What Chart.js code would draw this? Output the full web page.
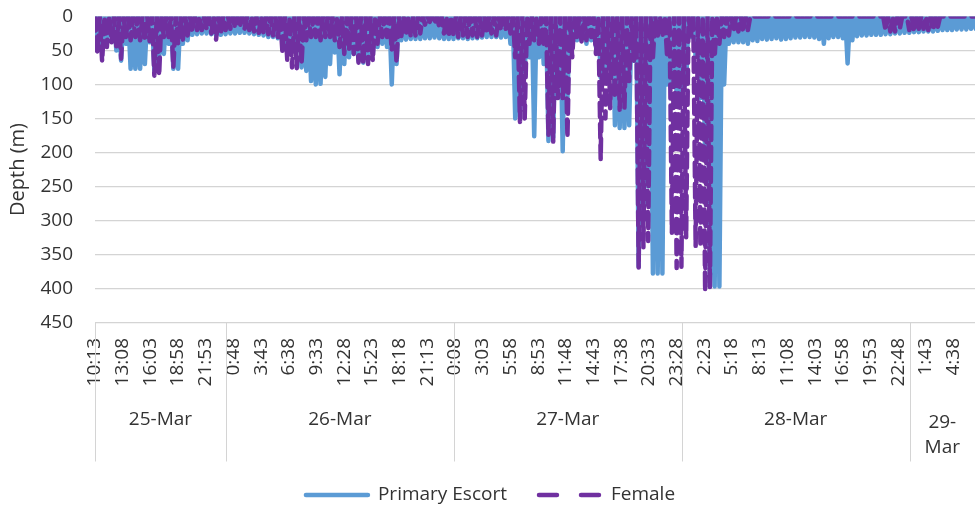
<!DOCTYPE html>
<html>
<head>
<meta charset="utf-8">
<script src="https://cdn.jsdelivr.net/npm/chart.js@4.4.1/dist/chart.umd.min.js"></script>
<style>
  html, body { margin: 0; padding: 0; background: #fff; }
  #wrap { width: 975px; height: 510px; position: relative; }
</style>
</head>
<body>
<div id="wrap"><canvas id="depthChart"></canvas></div>
<script>
// time axis is minutes after 25-Mar 10:13, depth read as deepest point per 30 min
const binMinutes = 30;
const surfaceDepth = 0;

const timeLabels = ['10:13','13:08','16:03','18:58','21:53','0:48','3:43','6:38','9:33','12:28',
  '15:23','18:18','21:13','0:08','3:03','5:58','8:53','11:48','14:43','17:38','20:33','23:28',
  '2:23','5:18','8:13','11:08','14:03','16:58','19:53','22:48','1:43','4:38'];
const labelStep = 175;

const dayLabels = ['25-Mar', '26-Mar', '27-Mar', '28-Mar', '29-Mar'];
const dayStarts = [0, 827, 2267, 3707, 5147];

const escortDepth = [
  40,45,35,30,50,65,40,77,77,77,70,38,80,60,55,40,77,77,40,35,
  27,26,25,25,26,28,27,26,25,25,24,24,25,26,27,28,30,30,32,35,
  40,45,50,75,80,95,100,99,89,70,53,85,70,60,55,65,68,60,55,45,
  40,45,100,70,35,34,33,33,33,32,32,31,32,33,33,33,32,32,33,32,
  32,31,30,30,30,31,30,40,150,148,80,60,176,60,70,183,178,90,198,120,
  40,35,35,40,35,45,90,80,75,160,164,164,160,65,368,300,250,378,378,378,
  100,100,120,120,100,30,60,120,200,397,397,397,100,40,38,38,38,40,35,36,
  33,34,33,32,34,33,32,31,31,30,30,31,33,40,32,30,30,32,69,35,
  29,28,28,27,27,27,26,26,25,25,24,24,23,23,22,22,22,21,20,20,
  20,19,19,19,18,18
];

const femaleDepth = [
  55,66,45,38,45,62,30,35,30,35,36,36,87,87,30,30,75,40,34,28,
  22,20,20,18,25,34,24,20,18,17,16,18,20,22,24,25,26,28,30,55,
  65,75,76,70,35,30,30,35,30,30,35,45,55,50,55,68,70,70,65,40,
  30,30,50,68,30,28,30,28,25,12,8,10,15,25,30,28,30,28,30,28,
  30,28,25,25,28,20,18,25,60,155,150,40,35,40,45,175,184,120,120,178,
  60,30,40,35,30,55,210,150,135,120,137,135,95,65,370,340,330,60,30,30,
  60,318,370,368,325,28,338,338,404,400,60,40,30,28,22,22,22,20,0,0,
  0,0,0,0,0,0,0,0,0,0,0,0,0,0,0,0,0,0,0,0,
  0,0,0,0,0,0,20,22,22,18,0,20,22,18,18,20,20,15,0,0,
  0,0,0,0,0,0
];

const textColor = '#333333';
const gridColor = '#d4d4d4';
const fontFamily = '"Open Sans", sans-serif';
const legendDash = [18, 24];

function diveProfile(maxDepths) {
  const pts = [];
  for (let i = 0; i < maxDepths.length; i++) {
    pts.push({x: i * binMinutes, y: surfaceDepth});
    pts.push({x: i * binMinutes + binMinutes / 2, y: maxDepths[i]});
  }
  return pts;
}

// second row of the category axis (day names) plus the legend under it
const dayAxis = {
  id: 'dayAxis',
  afterDraw(chart) {
    const {ctx, chartArea} = chart;
    const x = chart.scales.x;
    const top = chartArea.bottom;
    const edges = dayStarts.map(v => x.getPixelForValue(v));
    ctx.save();
    ctx.strokeStyle = gridColor;
    ctx.lineWidth = 1;
    edges.forEach(px => {
      const p = Math.round(px) + 0.5;
      ctx.beginPath();
      ctx.moveTo(p, top);
      ctx.lineTo(p, top + 139);
      ctx.stroke();
    });
    ctx.font = '19px ' + fontFamily;
    ctx.fillStyle = textColor;
    ctx.textAlign = 'center';
    ctx.textBaseline = 'middle';
    dayLabels.forEach((lab, i) => {
      const l = edges[i];
      const r = i + 1 < edges.length ? edges[i + 1] : chartArea.right;
      const cx = (l + r) / 2;
      if (ctx.measureText(lab).width > r - l - 6) {
        const cut = lab.indexOf('-') + 1;
        ctx.fillText(lab.slice(0, cut), cx, top + 100);
        ctx.fillText(lab.slice(cut), cx, top + 125);
      } else {
        ctx.fillText(lab, cx, top + 97.5);
      }
    });

    // legend
    const sampleW = 66, textGap = 8, itemGap = 30, ly = 495;
    const items = chart.data.datasets.map(ds => ({
      ds, w: sampleW + textGap + ctx.measureText(ds.label).width
    }));
    const total = items.reduce((s, it) => s + it.w, 0) + itemGap * (items.length - 1);
    let lx = (chart.width - total) / 2 + 2;
    ctx.textAlign = 'left';
    items.forEach(it => {
      ctx.save();
      ctx.strokeStyle = it.ds.borderColor;
      ctx.lineWidth = it.ds.borderWidth;
      ctx.lineCap = 'round';
      ctx.setLineDash(it.ds.borderDash ? legendDash : []);
      ctx.beginPath();
      ctx.moveTo(lx + 2, ly);
      ctx.lineTo(lx + sampleW - 2, ly);
      ctx.stroke();
      ctx.restore();
      ctx.fillText(it.ds.label, lx + sampleW + textGap, ly);
      lx += it.w + itemGap;
    });
    ctx.restore();
  }
};

const ctx = document.getElementById('depthChart').getContext('2d');

new Chart(ctx, {
  type: 'line',
  data: {
    datasets: [
      {
        label: 'Primary Escort',
        data: diveProfile(escortDepth),
        borderColor: '#5B9BD5',
        backgroundColor: '#5B9BD5',
        borderWidth: 4.5,
        borderJoinStyle: 'round',
        borderCapStyle: 'round',
        pointRadius: 0,
        order: 1
      },
      {
        label: 'Female',
        data: diveProfile(femaleDepth),
        borderColor: '#7030A0',
        backgroundColor: '#7030A0',
        borderWidth: 4.5,
        borderDash: [14, 7],
        borderJoinStyle: 'round',
        borderCapStyle: 'round',
        pointRadius: 0,
        order: 0
      }
    ]
  },
  options: {
    animation: false,
    responsive: true,
    maintainAspectRatio: false,
    layout: { padding: { top: 16.5, right: 0, bottom: 0, left: 0 } },
    plugins: {
      tooltip: { enabled: false },
      legend: { display: false }
    },
    scales: {
      x: {
        type: 'linear',
        min: 0,
        max: 5560,
        grid: { display: false },
        border: { display: false },
        afterBuildTicks: s => {
          s.ticks = timeLabels.map((t, i) => ({ value: i * labelStep }));
        },
        ticks: {
          autoSkip: false,
          maxRotation: 90,
          minRotation: 90,
          padding: 7.5,
          color: textColor,
          font: { family: fontFamily, size: 19 },
          callback: (v, i) => timeLabels[i]
        },
        afterFit: s => {
          s.height = 187.5;
          s.paddingLeft = 0;
          s.paddingRight = 0;
        }
      },
      y: {
        reverse: true,
        min: 0,
        max: 450,
        ticks: {
          stepSize: 50,
          padding: 22,
          color: textColor,
          font: { family: fontFamily, size: 19 }
        },
        grid: { color: gridColor, drawTicks: false, lineWidth: 1.2 },
        border: { display: false },
        title: {
          display: true,
          text: 'Depth (m)',
          color: textColor,
          font: { family: fontFamily, size: 20 },
          padding: { top: 6, bottom: 0 }
        },
        afterFit: s => {
          s.width = 95;
          s.paddingTop = 0;
          s.paddingBottom = 0;
        }
      }
    }
  },
  plugins: [dayAxis]
});
</script>
</body>
</html>
